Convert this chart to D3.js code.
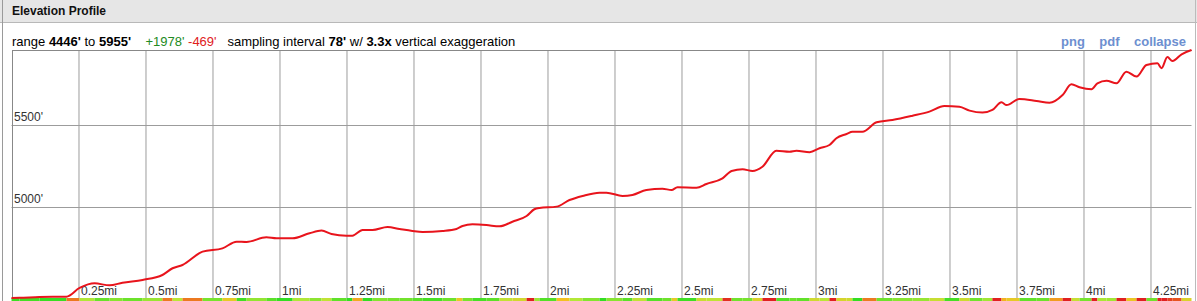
<!DOCTYPE html>
<html>
<head>
<meta charset="utf-8">
<script src="https://cdn.jsdelivr.net/npm/d3@7"></script>
<style>
  body { margin: 0; background: #fff; }
  svg { display: block; font-family: "Liberation Sans", Arial, sans-serif; }
</style>
</head>
<body>
<svg id="chart" width="1197" height="301"></svg>
<script>
// distance along track (mi) and elevation (ft)
const distMi = [0, 0.03, 0.104, 0.205, 0.254, 0.31, 0.366, 0.414, 0.489, 0.563, 0.601, 0.638, 0.713, 0.787, 0.84, 0.877, 0.951, 0.989, 1.049, 1.112,
  1.157, 1.194, 1.25, 1.272, 1.31, 1.347, 1.403, 1.448, 1.496, 1.534, 1.608, 1.66, 1.683, 1.72, 1.772, 1.821, 1.869, 1.922, 1.951, 1.97,
  2.034, 2.082, 2.131, 2.194, 2.22, 2.28, 2.317, 2.369, 2.429, 2.463, 2.485, 2.556, 2.593, 2.653, 2.687, 2.728, 2.765, 2.802, 2.854, 2.903,
  2.929, 2.978, 3.015, 3.052, 3.078, 3.116, 3.138, 3.175, 3.228, 3.287, 3.362, 3.425, 3.481, 3.537, 3.575, 3.623, 3.66, 3.694, 3.713, 3.761,
  3.825, 3.873, 3.922, 3.955, 3.985, 4.03, 4.052, 4.086, 4.123, 4.16, 4.198, 4.235, 4.276, 4.291, 4.313, 4.332, 4.366, 4.403];
const elevFt = [4446, 4447, 4452, 4454, 4507, 4535, 4523, 4539, 4556, 4586, 4627, 4647, 4728, 4748, 4789, 4787, 4815, 4809, 4809, 4840,
  4856, 4835, 4825, 4825, 4860, 4860, 4878, 4866, 4854, 4848, 4854, 4866, 4884, 4894, 4890, 4882, 4910, 4945, 4986, 4994,
  5002, 5042, 5067, 5087, 5087, 5067, 5073, 5103, 5111, 5103, 5120, 5117, 5140, 5174, 5219, 5229, 5219, 5245, 5342, 5336,
  5342, 5333, 5357, 5377, 5418, 5444, 5458, 5458, 5515, 5529, 5555, 5580, 5614, 5610, 5586, 5574, 5590, 5637, 5620, 5657,
  5645, 5634, 5681, 5746, 5728, 5716, 5752, 5768, 5752, 5823, 5793, 5864, 5874, 5844, 5912, 5888, 5929, 5955];

const xTicks = [0.25, 0.5, 0.75, 1, 1.25, 1.5, 1.75, 2, 2.25, 2.5, 2.75, 3, 3.25, 3.5, 3.75, 4, 4.25];
const yTicks = [5000, 5500];

const infoParts = [
  { t: "range ", c: "#000", w: "normal" },
  { t: "4446'", c: "#000", w: "bold" },
  { t: " to ", c: "#000", w: "normal" },
  { t: "5955'", c: "#000", w: "bold" },
  { t: "    ", c: "#000", w: "normal" },
  { t: "+1978'", c: "#238b23", w: "normal" },
  { t: " ", c: "#000", w: "normal" },
  { t: "-469'", c: "#e0201c", w: "normal" },
  { t: "   sampling interval ", c: "#000", w: "normal" },
  { t: "78'", c: "#000", w: "bold" },
  { t: " w/ ", c: "#000", w: "normal" },
  { t: "3.3x", c: "#000", w: "bold" },
  { t: " vertical exaggeration", c: "#000", w: "normal" }
];
const links = ["png", "pdf", "collapse"];

const W = 1197, H = 301;
const svg = d3.select("#chart");

// ---- panel frame + title bar
svg.append("rect").attr("x", 0).attr("y", 0).attr("width", W).attr("height", 22).attr("fill", "#e6e6e6");
svg.append("line").attr("x1", 0).attr("x2", W).attr("y1", 22.5).attr("y2", 22.5).attr("stroke", "#b8b8b8");
svg.append("line").attr("x1", 2.5).attr("x2", 2.5).attr("y1", 0).attr("y2", H).attr("stroke", "#9a9a9a");
svg.append("line").attr("x1", W - 1.5).attr("x2", W - 1.5).attr("y1", 0).attr("y2", H).attr("stroke", "#bbb");
svg.append("text").attr("x", 12).attr("y", 15)
  .style("font-size", "12px").style("font-weight", "bold").attr("fill", "#111")
  .text("Elevation Profile");

// info line
const info = svg.append("text").attr("x", 12).attr("y", 46)
  .attr("xml:space", "preserve").style("font-size", "13px").style("white-space", "pre");
info.selectAll("tspan").data(infoParts).join("tspan")
  .attr("fill", d => d.c).style("font-weight", d => d.w).text(d => d.t);

// links
svg.append("text").attr("x", 1186).attr("y", 46).attr("text-anchor", "end")
  .attr("xml:space", "preserve").style("white-space", "pre")
  .style("font-size", "13px").style("font-weight", "bold").attr("fill", "#6d8fd0")
  .text(links.join("    "));

// ---- plot
const x = d3.scaleLinear().domain([0, 4.403]).range([11.5, 1191.5]);
const y = d3.scaleLinear().domain([4446, 5955]).range([298, 50]);

const plot = svg.append("g");

// horizontal grid
plot.selectAll("line.hgrid").data(yTicks).join("line")
  .attr("class", "hgrid")
  .attr("x1", x.range()[0]).attr("x2", x.range()[1])
  .attr("y1", d => Math.round(y(d)) + 0.5).attr("y2", d => Math.round(y(d)) + 0.5)
  .attr("stroke", "#9c9c9c");
plot.selectAll("text.ylab").data(yTicks).join("text")
  .attr("class", "ylab")
  .attr("x", 14).attr("y", d => Math.round(y(d)) - 4)
  .style("font-size", "12px").attr("fill", "#333")
  .text(d => d + "'");

// vertical grid via axis
const xAxis = plot.append("g")
  .attr("transform", `translate(0,${y.range()[0]})`)
  .call(d3.axisBottom(x).tickValues(xTicks).tickSize(-(y.range()[0] - y.range()[1])).tickFormat(d => d + "mi"));
xAxis.select(".domain").remove();
xAxis.selectAll(".tick line").attr("stroke", "#9c9c9c");
xAxis.selectAll(".tick text")
  .attr("text-anchor", "start").attr("x", 2).attr("y", -3).attr("dy", 0)
  .style("font-family", "'Liberation Sans', Arial, sans-serif")
  .style("font-size", "12px").attr("fill", "#333");

// frame: left + top
plot.append("line").attr("x1", 12.5).attr("x2", 12.5).attr("y1", 50).attr("y2", 298).attr("stroke", "#888");
plot.append("line").attr("x1", 12).attr("x2", 1192).attr("y1", 50.5).attr("y2", 50.5).attr("stroke", "#888");

// grade strip along the bottom
const pts = distMi.map((d, i) => ({ d, e: elevFt[i] }));
const gradeColor = d3.scaleLinear().domain([0, 0.1, 0.16, 0.26]).range(["#33dd22", "#b8e838", "#f5c020", "#e02020"]).clamp(true);
plot.selectAll("rect.grade").data(d3.pairs(pts)).join("rect")
  .attr("class", "grade")
  .attr("x", p => x(p[0].d)).attr("width", p => Math.max(0.5, x(p[1].d) - x(p[0].d)))
  .attr("y", 298).attr("height", 3)
  .attr("fill", p => gradeColor(Math.abs(p[1].e - p[0].e) / ((p[1].d - p[0].d) * 5280)));

// elevation line
plot.append("path").datum(pts)
  .attr("fill", "none").attr("stroke", "#e8141c").attr("stroke-width", 2)
  .attr("stroke-linejoin", "round")
  .attr("d", d3.line().x(p => x(p.d)).y(p => y(p.e)).curve(d3.curveMonotoneX));
</script>
</body>
</html>
